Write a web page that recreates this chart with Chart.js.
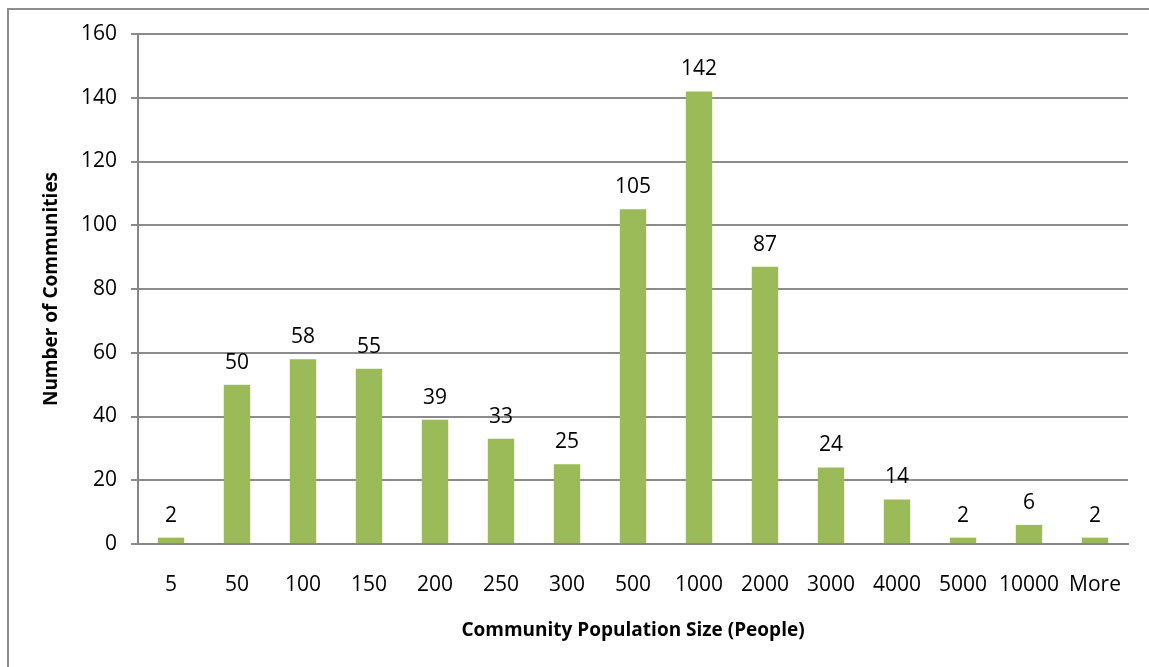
<!DOCTYPE html>
<html>
<head>
<meta charset="utf-8">
<script src="https://cdn.jsdelivr.net/npm/chart.js@4.4.1/dist/chart.umd.min.js"></script>
<style>
  html, body { margin: 0; padding: 0; background: #fff; }
  #wrap { width: 1149px; height: 667px; position: relative; }
</style>
</head>
<body>
<div id="wrap"><canvas id="chart"></canvas></div>
<script>
// Tamaños de comunidad (categorías del eje X)
const sizeLabels = ['5', '50', '100', '150', '200', '250', '300', '500', '1000', '2000', '3000', '4000', '5000', '10000', 'More'];
// Número de comunidades por categoría
const communityCounts = [2, 50, 58, 55, 39, 33, 25, 105, 142, 87, 24, 14, 2, 6, 2];
// Marcas del eje Y
const yTicks = [0, 20, 40, 60, 80, 100, 120, 140, 160];

const fontFamily = "'Open Sans', 'DejaVu Sans', sans-serif";

// Marco gris alrededor del gráfico
const frame = {
    id: 'frame',
    beforeDraw(chart) {
        const ctx = chart.ctx;
        ctx.save();
        ctx.strokeStyle = '#8c8c8c';
        ctx.lineWidth = 2;
        ctx.strokeRect(8, 9, chart.width + 20, chart.height + 20);
        ctx.restore();
    }
};

// Etiquetas de valor encima de cada barra
const barValues = {
    id: 'barValues',
    afterDatasetsDraw(chart) {
        const ctx = chart.ctx;
        const meta = chart.getDatasetMeta(0);
        ctx.save();
        ctx.font = '21px ' + fontFamily;
        ctx.fillStyle = '#000';
        ctx.textAlign = 'center';
        ctx.textBaseline = 'middle';
        meta.data.forEach((bar, i) => {
            ctx.fillText(String(communityCounts[i]), bar.x, bar.y - 22);
        });
        ctx.restore();
    }
};

new Chart(document.getElementById('chart'), {
    type: 'bar',
    data: {
        labels: sizeLabels,
        datasets: [{
            data: communityCounts,
            backgroundColor: '#9bbb59',
            borderWidth: 0,
            categoryPercentage: 1,
            barPercentage: 0.4
        }]
    },
    options: {
        responsive: true,
        maintainAspectRatio: false,
        animation: false,
        layout: { padding: { top: 34, right: 21, bottom: 0, left: 0 } },
        plugins: {
            legend: { display: false },
            tooltip: { enabled: false }
        },
        scales: {
            x: {
                grid: { display: false },
                border: { display: true, color: '#868686', width: 2 },
                ticks: {
                    color: '#000',
                    padding: 20,
                    maxRotation: 0,
                    autoSkip: false,
                    font: { family: fontFamily, size: 21 }
                },
                title: {
                    display: true,
                    text: 'Community Population Size (People)',
                    color: '#000',
                    font: { family: fontFamily, size: 19, weight: 'bold' },
                    padding: { top: 0, bottom: 25 }
                },
                afterFit(scale) { scale.height = 123; }
            },
            y: {
                min: 0,
                max: 160,
                afterBuildTicks(scale) { scale.ticks = yTicks.map(v => ({ value: v })); },
                grid: {
                    color: '#8c8c8c',
                    lineWidth: 2,
                    tickLength: 7,
                    drawTicks: true
                },
                border: { display: true, color: '#868686', width: 2 },
                ticks: {
                    color: '#000',
                    padding: 14,
                    font: { family: fontFamily, size: 21 }
                },
                title: {
                    display: true,
                    text: 'Number of Communities',
                    color: '#000',
                    font: { family: fontFamily, size: 19, weight: 'bold' },
                    padding: { top: 40, bottom: 0 }
                },
                afterFit(scale) { scale.width = 138; }
            }
        }
    },
    plugins: [frame, barValues]
});
</script>
</body>
</html>
